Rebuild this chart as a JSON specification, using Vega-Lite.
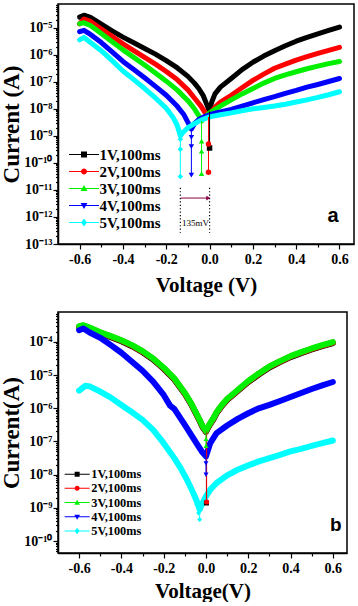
{
  "$schema": "https://vega.github.io/schema/vega-lite/v6.json",
  "padding": {"top": 3, "left": 0, "right": 0, "bottom": 0},
  "spacing": 15,
  "background": "white",
  "config": {
    "view": {"stroke": "black", "strokeWidth": 1.5},
    "axis": {"domainColor": "black", "domainWidth": 1.5, "tickColor": "black", "tickWidth": 1.2, "labelFont": "Liberation Serif", "labelFontWeight": "bold", "labelColor": "black", "titleFont": "Liberation Serif", "titleFontWeight": "bold", "titleColor": "black", "grid": false, "labelOverlap": false, "labelFlush": false},
    "legend": {"labelFont": "Liberation Serif", "labelFontWeight": "bold", "labelColor": "black", "symbolStrokeWidth": 0, "padding": 0, "title": null}
  },
  "datasets": {
    "a": [
      {"s":"1V,100ms","v":-0.6,"i":2.45e-5},{"s":"1V,100ms","v":-0.58,"i":2.88e-5},{"s":"1V,100ms","v":-0.55,"i":2.4e-5},{"s":"1V,100ms","v":-0.5,"i":1.35e-5},{"s":"1V,100ms","v":-0.45,"i":7.59e-6},{"s":"1V,100ms","v":-0.4,"i":4.47e-6},{"s":"1V,100ms","v":-0.35,"i":2.75e-6},{"s":"1V,100ms","v":-0.3,"i":1.7e-6},{"s":"1V,100ms","v":-0.25,"i":1.05e-6},{"s":"1V,100ms","v":-0.2,"i":6.03e-7},{"s":"1V,100ms","v":-0.15,"i":3.31e-7},{"s":"1V,100ms","v":-0.1,"i":1.58e-7},{"s":"1V,100ms","v":-0.07,"i":8.9e-8},{"s":"1V,100ms","v":-0.05,"i":5.62e-8},{"s":"1V,100ms","v":-0.03,"i":3.16e-8},{"s":"1V,100ms","v":-0.015,"i":1.58e-8},{"s":"1V,100ms","v":0,"i":7.94e-9},{"s":"1V,100ms","v":0.01,"i":1.78e-8},{"s":"1V,100ms","v":0.025,"i":3.55e-8},{"s":"1V,100ms","v":0.05,"i":6.31e-8},{"s":"1V,100ms","v":0.1,"i":1.32e-7},{"s":"1V,100ms","v":0.15,"i":2.82e-7},{"s":"1V,100ms","v":0.2,"i":5.25e-7},{"s":"1V,100ms","v":0.25,"i":8.91e-7},{"s":"1V,100ms","v":0.3,"i":1.41e-6},{"s":"1V,100ms","v":0.35,"i":2.14e-6},{"s":"1V,100ms","v":0.4,"i":3.16e-6},{"s":"1V,100ms","v":0.45,"i":4.37e-6},{"s":"1V,100ms","v":0.5,"i":5.89e-6},{"s":"1V,100ms","v":0.55,"i":7.94e-6},{"s":"1V,100ms","v":0.6,"i":1.05e-5},
      {"s":"2V,100ms","v":-0.6,"i":1.38e-5},{"s":"2V,100ms","v":-0.58,"i":2.09e-5},{"s":"2V,100ms","v":-0.55,"i":1.7e-5},{"s":"2V,100ms","v":-0.5,"i":8.91e-6},{"s":"2V,100ms","v":-0.45,"i":4.79e-6},{"s":"2V,100ms","v":-0.4,"i":2.51e-6},{"s":"2V,100ms","v":-0.35,"i":1.41e-6},{"s":"2V,100ms","v":-0.3,"i":7.94e-7},{"s":"2V,100ms","v":-0.25,"i":4.47e-7},{"s":"2V,100ms","v":-0.2,"i":2.4e-7},{"s":"2V,100ms","v":-0.15,"i":1.2e-7},{"s":"2V,100ms","v":-0.1,"i":5.01e-8},{"s":"2V,100ms","v":-0.07,"i":2.51e-8},{"s":"2V,100ms","v":-0.04,"i":1.26e-8},{"s":"2V,100ms","v":-0.02,"i":7.08e-9},{"s":"2V,100ms","v":-0.005,"i":5.01e-9},{"s":"2V,100ms","v":0.01,"i":7.94e-9},{"s":"2V,100ms","v":0.03,"i":1.26e-8},{"s":"2V,100ms","v":0.05,"i":1.78e-8},{"s":"2V,100ms","v":0.1,"i":3.16e-8},{"s":"2V,100ms","v":0.15,"i":6.03e-8},{"s":"2V,100ms","v":0.2,"i":1.12e-7},{"s":"2V,100ms","v":0.25,"i":1.91e-7},{"s":"2V,100ms","v":0.3,"i":3.16e-7},{"s":"2V,100ms","v":0.35,"i":4.47e-7},{"s":"2V,100ms","v":0.4,"i":6.31e-7},{"s":"2V,100ms","v":0.45,"i":8.51e-7},{"s":"2V,100ms","v":0.5,"i":1.12e-6},{"s":"2V,100ms","v":0.55,"i":1.45e-6},{"s":"2V,100ms","v":0.6,"i":1.86e-6},
      {"s":"3V,100ms","v":-0.6,"i":1.41e-5},{"s":"3V,100ms","v":-0.58,"i":1.51e-5},{"s":"3V,100ms","v":-0.55,"i":1.2e-5},{"s":"3V,100ms","v":-0.5,"i":6.03e-6},{"s":"3V,100ms","v":-0.45,"i":3.02e-6},{"s":"3V,100ms","v":-0.4,"i":1.51e-6},{"s":"3V,100ms","v":-0.35,"i":7.94e-7},{"s":"3V,100ms","v":-0.3,"i":4.17e-7},{"s":"3V,100ms","v":-0.25,"i":2.09e-7},{"s":"3V,100ms","v":-0.2,"i":1.05e-7},{"s":"3V,100ms","v":-0.15,"i":5.01e-8},{"s":"3V,100ms","v":-0.1,"i":2e-8},{"s":"3V,100ms","v":-0.07,"i":1e-8},{"s":"3V,100ms","v":-0.05,"i":5.62e-9},{"s":"3V,100ms","v":-0.037,"i":3.55e-9},{"s":"3V,100ms","v":-0.02,"i":5.01e-9},{"s":"3V,100ms","v":0,"i":7.08e-9},{"s":"3V,100ms","v":0.03,"i":1e-8},{"s":"3V,100ms","v":0.05,"i":1.26e-8},{"s":"3V,100ms","v":0.1,"i":2.14e-8},{"s":"3V,100ms","v":0.15,"i":3.55e-8},{"s":"3V,100ms","v":0.2,"i":5.62e-8},{"s":"3V,100ms","v":0.25,"i":8.91e-8},{"s":"3V,100ms","v":0.3,"i":1.32e-7},{"s":"3V,100ms","v":0.35,"i":1.78e-7},{"s":"3V,100ms","v":0.4,"i":2.34e-7},{"s":"3V,100ms","v":0.45,"i":3.02e-7},{"s":"3V,100ms","v":0.5,"i":3.8e-7},{"s":"3V,100ms","v":0.55,"i":4.68e-7},{"s":"3V,100ms","v":0.6,"i":5.62e-7},
      {"s":"4V,100ms","v":-0.6,"i":7.08e-6},{"s":"4V,100ms","v":-0.58,"i":7.94e-6},{"s":"4V,100ms","v":-0.55,"i":5.62e-6},{"s":"4V,100ms","v":-0.5,"i":2.82e-6},{"s":"4V,100ms","v":-0.45,"i":1.26e-6},{"s":"4V,100ms","v":-0.4,"i":5.62e-7},{"s":"4V,100ms","v":-0.35,"i":2.82e-7},{"s":"4V,100ms","v":-0.3,"i":1.41e-7},{"s":"4V,100ms","v":-0.25,"i":6.76e-8},{"s":"4V,100ms","v":-0.2,"i":3.16e-8},{"s":"4V,100ms","v":-0.15,"i":1.26e-8},{"s":"4V,100ms","v":-0.12,"i":6.31e-9},{"s":"4V,100ms","v":-0.1,"i":3.16e-9},{"s":"4V,100ms","v":-0.084,"i":1.78e-9},{"s":"4V,100ms","v":-0.07,"i":2.82e-9},{"s":"4V,100ms","v":-0.05,"i":3.98e-9},{"s":"4V,100ms","v":-0.02,"i":5.25e-9},{"s":"4V,100ms","v":0,"i":6.03e-9},{"s":"4V,100ms","v":0.03,"i":7.08e-9},{"s":"4V,100ms","v":0.1,"i":9.55e-9},{"s":"4V,100ms","v":0.15,"i":1.26e-8},{"s":"4V,100ms","v":0.2,"i":1.66e-8},{"s":"4V,100ms","v":0.25,"i":2.19e-8},{"s":"4V,100ms","v":0.3,"i":2.82e-8},{"s":"4V,100ms","v":0.35,"i":3.72e-8},{"s":"4V,100ms","v":0.4,"i":4.79e-8},{"s":"4V,100ms","v":0.45,"i":6.31e-8},{"s":"4V,100ms","v":0.5,"i":7.94e-8},{"s":"4V,100ms","v":0.55,"i":1.02e-7},{"s":"4V,100ms","v":0.6,"i":1.32e-7},
      {"s":"5V,100ms","v":-0.6,"i":3.55e-6},{"s":"5V,100ms","v":-0.58,"i":4.37e-6},{"s":"5V,100ms","v":-0.55,"i":2.82e-6},{"s":"5V,100ms","v":-0.5,"i":1.41e-6},{"s":"5V,100ms","v":-0.45,"i":6.03e-7},{"s":"5V,100ms","v":-0.4,"i":2.51e-7},{"s":"5V,100ms","v":-0.35,"i":1.2e-7},{"s":"5V,100ms","v":-0.3,"i":5.62e-8},{"s":"5V,100ms","v":-0.25,"i":2.51e-8},{"s":"5V,100ms","v":-0.2,"i":1.05e-8},{"s":"5V,100ms","v":-0.17,"i":5.01e-9},{"s":"5V,100ms","v":-0.15,"i":2.51e-9},{"s":"5V,100ms","v":-0.135,"i":1e-9},{"s":"5V,100ms","v":-0.12,"i":1.41e-9},{"s":"5V,100ms","v":-0.1,"i":2e-9},{"s":"5V,100ms","v":-0.07,"i":2.82e-9},{"s":"5V,100ms","v":-0.04,"i":3.8e-9},{"s":"5V,100ms","v":0,"i":5.01e-9},{"s":"5V,100ms","v":0.05,"i":6.03e-9},{"s":"5V,100ms","v":0.1,"i":7.08e-9},{"s":"5V,100ms","v":0.15,"i":8.51e-9},{"s":"5V,100ms","v":0.2,"i":1e-8},{"s":"5V,100ms","v":0.25,"i":1.12e-8},{"s":"5V,100ms","v":0.3,"i":1.26e-8},{"s":"5V,100ms","v":0.35,"i":1.48e-8},{"s":"5V,100ms","v":0.4,"i":1.78e-8},{"s":"5V,100ms","v":0.45,"i":2.14e-8},{"s":"5V,100ms","v":0.5,"i":2.63e-8},{"s":"5V,100ms","v":0.55,"i":3.31e-8},{"s":"5V,100ms","v":0.6,"i":4.27e-8}
    ],
    "aDip": [
      {"s":"1V,100ms","v":0.0,"top":7.94e-9,"bot":3.55e-10},
      {"s":"2V,100ms","v":-0.005,"top":5.01e-9,"bot":4.47e-11},
      {"s":"3V,100ms","v":-0.037,"top":3.55e-9,"bot":3.98e-11},
      {"s":"4V,100ms","v":-0.084,"top":1.78e-9,"bot":3.55e-11},
      {"s":"5V,100ms","v":-0.135,"top":1e-9,"bot":3.16e-11}
    ],
    "aMark": [
      {"s":"1V,100ms","v":0.0,"i":3.55e-10},
      {"s":"2V,100ms","v":-0.005,"i":5.01e-10},{"s":"2V,100ms","v":-0.005,"i":4.47e-11},
      {"s":"3V,100ms","v":-0.037,"i":6.31e-10},{"s":"3V,100ms","v":-0.037,"i":2.69e-10},{"s":"3V,100ms","v":-0.037,"i":3.98e-11},
      {"s":"4V,100ms","v":-0.084,"i":8.71e-10},{"s":"4V,100ms","v":-0.084,"i":3.98e-10},{"s":"4V,100ms","v":-0.084,"i":3.55e-11},
      {"s":"5V,100ms","v":-0.135,"i":7.41e-10},{"s":"5V,100ms","v":-0.135,"i":3.16e-10},{"s":"5V,100ms","v":-0.135,"i":3.16e-11}
    ],
    "aGuide": [
      {"v":-0.135,"top":1.2e-11,"bot":2.6e-13},
      {"v":0.0,"top":1.2e-11,"bot":2.6e-13}
    ],
    "aArrow": [{"v":-0.133,"v2":-0.006,"i":5.0e-12}],
    "aText": [{"v":-0.065,"i":6.0e-13,"t":"135mV"}],
    "aLetter": [{"v":0.57,"i":1.1e-12,"t":"a"}],
    "b": [
      {"s":"1V,100ms","v":-0.6,"i":2.74e-4},{"s":"1V,100ms","v":-0.58,"i":2.94e-4},{"s":"1V,100ms","v":-0.55,"i":2.5e-4},{"s":"1V,100ms","v":-0.5,"i":1.81e-4},{"s":"1V,100ms","v":-0.45,"i":1.38e-4},{"s":"1V,100ms","v":-0.4,"i":1.04e-4},{"s":"1V,100ms","v":-0.35,"i":7.38e-5},{"s":"1V,100ms","v":-0.3,"i":4.88e-5},{"s":"1V,100ms","v":-0.25,"i":2.94e-5},{"s":"1V,100ms","v":-0.2,"i":1.54e-5},{"s":"1V,100ms","v":-0.15,"i":7.38e-6},{"s":"1V,100ms","v":-0.1,"i":2.68e-6},{"s":"1V,100ms","v":-0.07,"i":1.31e-6},{"s":"1V,100ms","v":-0.05,"i":7.38e-7},{"s":"1V,100ms","v":-0.03,"i":4.16e-7},{"s":"1V,100ms","v":-0.015,"i":2.62e-7},{"s":"1V,100ms","v":0,"i":1.94e-7},{"s":"1V,100ms","v":0.01,"i":2.62e-7},{"s":"1V,100ms","v":0.02,"i":3.3e-7},{"s":"1V,100ms","v":0.035,"i":4.66e-7},{"s":"1V,100ms","v":0.05,"i":7.06e-7},{"s":"1V,100ms","v":0.075,"i":1.17e-6},{"s":"1V,100ms","v":0.1,"i":1.78e-6},{"s":"1V,100ms","v":0.15,"i":3.3e-6},{"s":"1V,100ms","v":0.2,"i":6.15e-6},{"s":"1V,100ms","v":0.25,"i":1.04e-5},{"s":"1V,100ms","v":0.3,"i":1.69e-5},{"s":"1V,100ms","v":0.35,"i":2.45e-5},{"s":"1V,100ms","v":0.4,"i":3.46e-5},{"s":"1V,100ms","v":0.45,"i":4.56e-5},{"s":"1V,100ms","v":0.5,"i":5.87e-5},{"s":"1V,100ms","v":0.55,"i":7.38e-5},{"s":"1V,100ms","v":0.6,"i":9.09e-5},
      {"s":"2V,100ms","v":-0.6,"i":2.86e-4},{"s":"2V,100ms","v":-0.58,"i":3.07e-4},{"s":"2V,100ms","v":-0.55,"i":2.61e-4},{"s":"2V,100ms","v":-0.5,"i":1.89e-4},{"s":"2V,100ms","v":-0.45,"i":1.44e-4},{"s":"2V,100ms","v":-0.4,"i":1.09e-4},{"s":"2V,100ms","v":-0.35,"i":7.7e-5},{"s":"2V,100ms","v":-0.3,"i":5.09e-5},{"s":"2V,100ms","v":-0.25,"i":3.07e-5},{"s":"2V,100ms","v":-0.2,"i":1.61e-5},{"s":"2V,100ms","v":-0.15,"i":7.7e-6},{"s":"2V,100ms","v":-0.1,"i":2.79e-6},{"s":"2V,100ms","v":-0.07,"i":1.37e-6},{"s":"2V,100ms","v":-0.05,"i":7.7e-7},{"s":"2V,100ms","v":-0.03,"i":4.34e-7},{"s":"2V,100ms","v":-0.015,"i":2.74e-7},{"s":"2V,100ms","v":0,"i":2.03e-7},{"s":"2V,100ms","v":0.01,"i":2.74e-7},{"s":"2V,100ms","v":0.02,"i":3.44e-7},{"s":"2V,100ms","v":0.035,"i":4.86e-7},{"s":"2V,100ms","v":0.05,"i":7.36e-7},{"s":"2V,100ms","v":0.075,"i":1.22e-6},{"s":"2V,100ms","v":0.1,"i":1.85e-6},{"s":"2V,100ms","v":0.15,"i":3.44e-6},{"s":"2V,100ms","v":0.2,"i":6.41e-6},{"s":"2V,100ms","v":0.25,"i":1.09e-5},{"s":"2V,100ms","v":0.3,"i":1.77e-5},{"s":"2V,100ms","v":0.35,"i":2.55e-5},{"s":"2V,100ms","v":0.4,"i":3.61e-5},{"s":"2V,100ms","v":0.45,"i":4.75e-5},{"s":"2V,100ms","v":0.5,"i":6.12e-5},{"s":"2V,100ms","v":0.55,"i":7.7e-5},{"s":"2V,100ms","v":0.6,"i":9.48e-5},
      {"s":"3V,100ms","v":-0.6,"i":2.95e-4},{"s":"3V,100ms","v":-0.58,"i":3.16e-4},{"s":"3V,100ms","v":-0.55,"i":2.69e-4},{"s":"3V,100ms","v":-0.5,"i":1.95e-4},{"s":"3V,100ms","v":-0.45,"i":1.48e-4},{"s":"3V,100ms","v":-0.4,"i":1.12e-4},{"s":"3V,100ms","v":-0.35,"i":7.94e-5},{"s":"3V,100ms","v":-0.3,"i":5.25e-5},{"s":"3V,100ms","v":-0.25,"i":3.16e-5},{"s":"3V,100ms","v":-0.2,"i":1.66e-5},{"s":"3V,100ms","v":-0.15,"i":7.94e-6},{"s":"3V,100ms","v":-0.1,"i":2.88e-6},{"s":"3V,100ms","v":-0.07,"i":1.41e-6},{"s":"3V,100ms","v":-0.05,"i":7.94e-7},{"s":"3V,100ms","v":-0.03,"i":4.47e-7},{"s":"3V,100ms","v":-0.015,"i":2.82e-7},{"s":"3V,100ms","v":0,"i":2.09e-7},{"s":"3V,100ms","v":0.01,"i":2.82e-7},{"s":"3V,100ms","v":0.02,"i":3.55e-7},{"s":"3V,100ms","v":0.035,"i":5.01e-7},{"s":"3V,100ms","v":0.05,"i":7.59e-7},{"s":"3V,100ms","v":0.075,"i":1.26e-6},{"s":"3V,100ms","v":0.1,"i":1.91e-6},{"s":"3V,100ms","v":0.15,"i":3.55e-6},{"s":"3V,100ms","v":0.2,"i":6.61e-6},{"s":"3V,100ms","v":0.25,"i":1.12e-5},{"s":"3V,100ms","v":0.3,"i":1.82e-5},{"s":"3V,100ms","v":0.35,"i":2.63e-5},{"s":"3V,100ms","v":0.4,"i":3.72e-5},{"s":"3V,100ms","v":0.45,"i":4.9e-5},{"s":"3V,100ms","v":0.5,"i":6.31e-5},{"s":"3V,100ms","v":0.55,"i":7.94e-5},{"s":"3V,100ms","v":0.6,"i":9.77e-5},
      {"s":"4V,100ms","v":-0.6,"i":2.24e-4},{"s":"4V,100ms","v":-0.58,"i":2.51e-4},{"s":"4V,100ms","v":-0.55,"i":1.91e-4},{"s":"4V,100ms","v":-0.5,"i":1.32e-4},{"s":"4V,100ms","v":-0.45,"i":7.94e-5},{"s":"4V,100ms","v":-0.4,"i":4.68e-5},{"s":"4V,100ms","v":-0.35,"i":2.51e-5},{"s":"4V,100ms","v":-0.3,"i":1.35e-5},{"s":"4V,100ms","v":-0.25,"i":6.31e-6},{"s":"4V,100ms","v":-0.2,"i":2.51e-6},{"s":"4V,100ms","v":-0.17,"i":1.2e-6},{"s":"4V,100ms","v":-0.15,"i":9.55e-7},{"s":"4V,100ms","v":-0.1,"i":3.16e-7},{"s":"4V,100ms","v":-0.07,"i":1.58e-7},{"s":"4V,100ms","v":-0.04,"i":7.94e-8},{"s":"4V,100ms","v":-0.02,"i":5.01e-8},{"s":"4V,100ms","v":0,"i":3.55e-8},{"s":"4V,100ms","v":0.02,"i":8.91e-8},{"s":"4V,100ms","v":0.05,"i":1.78e-7},{"s":"4V,100ms","v":0.1,"i":3.02e-7},{"s":"4V,100ms","v":0.15,"i":4.79e-7},{"s":"4V,100ms","v":0.2,"i":7.08e-7},{"s":"4V,100ms","v":0.25,"i":1e-6},{"s":"4V,100ms","v":0.3,"i":1.26e-6},{"s":"4V,100ms","v":0.35,"i":1.66e-6},{"s":"4V,100ms","v":0.4,"i":2.19e-6},{"s":"4V,100ms","v":0.45,"i":2.88e-6},{"s":"4V,100ms","v":0.5,"i":3.8e-6},{"s":"4V,100ms","v":0.55,"i":4.9e-6},{"s":"4V,100ms","v":0.6,"i":6.17e-6},
      {"s":"5V,100ms","v":-0.6,"i":3.39e-6},{"s":"5V,100ms","v":-0.57,"i":4.79e-6},{"s":"5V,100ms","v":-0.55,"i":4.57e-6},{"s":"5V,100ms","v":-0.5,"i":3.16e-6},{"s":"5V,100ms","v":-0.45,"i":2.09e-6},{"s":"5V,100ms","v":-0.4,"i":1.26e-6},{"s":"5V,100ms","v":-0.35,"i":7.59e-7},{"s":"5V,100ms","v":-0.3,"i":4.47e-7},{"s":"5V,100ms","v":-0.25,"i":2.24e-7},{"s":"5V,100ms","v":-0.2,"i":8.91e-8},{"s":"5V,100ms","v":-0.15,"i":3.16e-8},{"s":"5V,100ms","v":-0.12,"i":1.58e-8},{"s":"5V,100ms","v":-0.09,"i":7.08e-9},{"s":"5V,100ms","v":-0.06,"i":2.82e-9},{"s":"5V,100ms","v":-0.04,"i":1.41e-9},{"s":"5V,100ms","v":-0.03,"i":8.91e-10},{"s":"5V,100ms","v":-0.02,"i":1.26e-9},{"s":"5V,100ms","v":0,"i":2.24e-9},{"s":"5V,100ms","v":0.02,"i":3.55e-9},{"s":"5V,100ms","v":0.05,"i":5.62e-9},{"s":"5V,100ms","v":0.1,"i":9.55e-9},{"s":"5V,100ms","v":0.15,"i":1.41e-8},{"s":"5V,100ms","v":0.2,"i":1.91e-8},{"s":"5V,100ms","v":0.25,"i":2.51e-8},{"s":"5V,100ms","v":0.3,"i":3.16e-8},{"s":"5V,100ms","v":0.35,"i":3.98e-8},{"s":"5V,100ms","v":0.4,"i":5.01e-8},{"s":"5V,100ms","v":0.45,"i":6.03e-8},{"s":"5V,100ms","v":0.5,"i":7.41e-8},{"s":"5V,100ms","v":0.55,"i":8.91e-8},{"s":"5V,100ms","v":0.6,"i":1.07e-7}
    ],
    "bDip": [
      {"s":"1V,100ms","v":0.002,"top":1.94e-7,"bot":1.41e-9},
      {"s":"2V,100ms","v":0.003,"top":2.03e-7,"bot":1.5e-9},
      {"s":"3V,100ms","v":0.0,"top":2.09e-7,"bot":7.41e-8},
      {"s":"4V,100ms","v":0.0,"top":3.55e-8,"bot":1e-8},
      {"s":"5V,100ms","v":-0.03,"top":8.91e-10,"bot":4.47e-10}
    ],
    "bMark": [
      {"s":"1V,100ms","v":0.002,"i":1.41e-9},
      {"s":"2V,100ms","v":0.003,"i":1.5e-9},
      {"s":"3V,100ms","v":0.0,"i":1.2e-7},{"s":"3V,100ms","v":0.0,"i":7.41e-8},
      {"s":"4V,100ms","v":0.0,"i":2.2e-8},{"s":"4V,100ms","v":0.0,"i":1e-8},
      {"s":"5V,100ms","v":-0.045,"i":1.3e-9},{"s":"5V,100ms","v":-0.035,"i":7e-10},{"s":"5V,100ms","v":-0.03,"i":4.47e-10}
    ],
    "bLetter": [{"v":0.614,"i":3.1e-10,"t":"b"}]
  },
  "resolve": {"scale": {"fill": "independent", "shape": "independent"}, "legend": {"fill": "independent", "shape": "independent"}},
  "vconcat": [
    {
      "width": 296,
      "height": 240,
      "encoding": {
        "x": {"field": "v", "type": "quantitative", "scale": {"domain": [-0.7, 0.667], "nice": false, "zero": false},
          "axis": {"values": [-0.6,-0.5,-0.4,-0.3,-0.2,-0.1,0,0.1,0.2,0.3,0.4,0.5,0.6],
            "labelExpr": "abs(round(datum.value*10) % 2) == 0 ? (datum.value < -0.001 ? '-' : '') + format(abs(datum.value), '.1f') : ''",
            "tickSize": {"condition": {"test": "abs(round(datum.value*10) % 2) == 0", "value": 5}, "value": 3},
            "labelFontSize": 14, "labelPadding": 3, "title": "Voltage (V)", "titleFontSize": 21, "titlePadding": 8}}
      },
      "layer": [
        {
          "data": {"name": "a"},
          "mark": {"type": "line", "strokeWidth": 5, "strokeCap": "round", "strokeJoin": "round"},
          "encoding": {
            "y": {"field": "i", "type": "quantitative", "scale": {"type": "log", "domain": [1e-13, 7.5e-5], "nice": false},
              "axis": {"values": [1e-13,2e-13,3e-13,4e-13,5e-13,6e-13,7e-13,8e-13,9e-13,1e-12,2e-12,3e-12,4e-12,5e-12,6e-12,7e-12,8e-12,9e-12,1e-11,2e-11,3e-11,4e-11,5e-11,6e-11,7e-11,8e-11,9e-11,1e-10,2e-10,3e-10,4e-10,5e-10,6e-10,7e-10,8e-10,9e-10,1e-9,2e-9,3e-9,4e-9,5e-9,6e-9,7e-9,8e-9,9e-9,1e-8,2e-8,3e-8,4e-8,5e-8,6e-8,7e-8,8e-8,9e-8,1e-7,2e-7,3e-7,4e-7,5e-7,6e-7,7e-7,8e-7,9e-7,1e-6,2e-6,3e-6,4e-6,5e-6,6e-6,7e-6,8e-6,9e-6,1e-5,2e-5,3e-5,4e-5,5e-5,6e-5,7e-5],
                "labelExpr": "abs(log(datum.value)/LN10 - round(log(datum.value)/LN10)) < 0.001 ? '10⁻' + (round(-log(datum.value)/LN10) >= 10 ? '¹' : '') + ['⁰','¹','²','³','⁴','⁵','⁶','⁷','⁸','⁹'][round(-log(datum.value)/LN10) % 10] : ''",
                "labelFontSize": {"condition": {"test": "abs(log(datum.value)/LN10 - round(log(datum.value)/LN10)) < 0.001", "value": 14}, "value": 1},
                "tickSize": {"condition": {"test": "abs(log(datum.value)/LN10 - round(log(datum.value)/LN10)) < 0.001", "value": 5}, "value": 2.5},
                "labelPadding": 1, "title": "Current (A)", "titleFontSize": 23, "titlePadding": 0}},
            "color": {"field": "s", "type": "nominal", "scale": {"domain": ["1V,100ms","2V,100ms","3V,100ms","4V,100ms","5V,100ms"], "range": ["#000000","#ff0000","#00f000","#0000ff","#00ffff"]}, "legend": null}
          }
        },
        {
          "data": {"name": "aDip"},
          "mark": {"type": "rule", "strokeWidth": 1},
          "encoding": {
            "y": {"field": "top", "type": "quantitative"},
            "y2": {"field": "bot"},
            "color": {"field": "s", "type": "nominal", "legend": null}
          }
        },
        {"data": {"name": "aMark"}, "transform": [{"filter": {"field": "s", "equal": "1V,100ms"}}], "mark": {"type": "point", "shape": "square", "filled": true, "opacity": 1, "size": 30}, "encoding": {"y": {"field": "i", "type": "quantitative"}, "color": {"field": "s", "type": "nominal", "legend": null}}},
        {"data": {"name": "aMark"}, "transform": [{"filter": {"field": "s", "equal": "2V,100ms"}}], "mark": {"type": "point", "shape": "circle", "filled": true, "opacity": 1, "size": 30}, "encoding": {"y": {"field": "i", "type": "quantitative"}, "color": {"field": "s", "type": "nominal", "legend": null}}},
        {"data": {"name": "aMark"}, "transform": [{"filter": {"field": "s", "equal": "3V,100ms"}}], "mark": {"type": "point", "shape": "triangle-up", "filled": true, "opacity": 1, "size": 30}, "encoding": {"y": {"field": "i", "type": "quantitative"}, "color": {"field": "s", "type": "nominal", "legend": null}}},
        {"data": {"name": "aMark"}, "transform": [{"filter": {"field": "s", "equal": "4V,100ms"}}], "mark": {"type": "point", "shape": "triangle-down", "filled": true, "opacity": 1, "size": 30}, "encoding": {"y": {"field": "i", "type": "quantitative"}, "color": {"field": "s", "type": "nominal", "legend": null}}},
        {"data": {"name": "aMark"}, "transform": [{"filter": {"field": "s", "equal": "5V,100ms"}}], "mark": {"type": "point", "shape": "diamond", "filled": true, "opacity": 1, "size": 30}, "encoding": {"y": {"field": "i", "type": "quantitative"}, "color": {"field": "s", "type": "nominal", "legend": null}}},
        {
          "data": {"name": "aGuide"},
          "mark": {"type": "rule", "strokeWidth": 1.2, "strokeDash": [1.2, 2.2], "color": "black"},
          "encoding": {"y": {"field": "top", "type": "quantitative"}, "y2": {"field": "bot"}}
        },
        {
          "data": {"name": "aArrow"},
          "mark": {"type": "rule", "strokeWidth": 1, "color": "#8b0045"},
          "encoding": {"x2": {"field": "v2"}, "y": {"field": "i", "type": "quantitative"}}
        },
        {
          "data": {"name": "aArrow"},
          "mark": {"type": "point", "shape": "triangle-right", "filled": true, "size": 22, "color": "#8b0045", "opacity": 1},
          "encoding": {"x": {"field": "v2", "type": "quantitative"}, "y": {"field": "i", "type": "quantitative"}}
        },
        {
          "data": {"name": "aText"},
          "mark": {"type": "text", "font": "Liberation Serif", "fontSize": 9, "color": "black"},
          "encoding": {"y": {"field": "i", "type": "quantitative"}, "text": {"field": "t"}}
        },
        {
          "data": {"name": "aLetter"},
          "mark": {"type": "text", "font": "Liberation Sans", "fontWeight": "bold", "fontSize": 20, "color": "black"},
          "encoding": {"y": {"field": "i", "type": "quantitative"}, "text": {"field": "t"}}
        },
        {
          "data": {"values": []},
          "mark": {"type": "point", "filled": true, "opacity": 1},
          "encoding": {
            "fill": {"field": "s", "type": "nominal", "scale": {"domain": ["1V,100ms","2V,100ms","3V,100ms","4V,100ms","5V,100ms"], "range": ["#000000","#ff0000","#00f000","#0000ff","#00ffff"]},
              "legend": {"orient": "none", "legendX": 18.5, "legendY": 143, "symbolSize": 36, "labelOffset": 8, "labelFontSize": 15, "rowPadding": 1}},
            "shape": {"field": "s", "type": "nominal", "scale": {"domain": ["1V,100ms","2V,100ms","3V,100ms","4V,100ms","5V,100ms"], "range": [
              "M-5,-0.17H5V0.17H-5Z M-1,-1H1V1H-1Z",
              "M-5,-0.17H5V0.17H-5Z M1,0A1,1 0 1,1 -1,0A1,1 0 1,1 1,0Z",
              "M-5,-0.17H5V0.17H-5Z M0,-1.15L1.15,0.85H-1.15Z",
              "M-5,-0.17H5V0.17H-5Z M0,1.15L-1.15,-0.85H1.15Z",
              "M-5,-0.17H5V0.17H-5Z M0,-1.3L1,0L0,1.3L-1,0Z"]},
              "legend": {"orient": "none", "legendX": 18.5, "legendY": 143, "symbolSize": 36, "labelOffset": 8, "labelFontSize": 15, "rowPadding": 1}}
          }
        }
      ]
    },
    {
      "width": 289,
      "height": 241,
      "encoding": {
        "x": {"field": "v", "type": "quantitative", "scale": {"domain": [-0.7, 0.667], "nice": false, "zero": false},
          "axis": {"values": [-0.6,-0.5,-0.4,-0.3,-0.2,-0.1,0,0.1,0.2,0.3,0.4,0.5,0.6],
            "labelExpr": "abs(round(datum.value*10) % 2) == 0 ? (datum.value < -0.001 ? '-' : '') + format(abs(datum.value), '.1f') : ''",
            "tickSize": {"condition": {"test": "abs(round(datum.value*10) % 2) == 0", "value": 5}, "value": 3},
            "labelFontSize": 14, "labelPadding": 3, "title": "Voltage(V)", "titleFontSize": 21, "titlePadding": 5}}
      },
      "layer": [
        {
          "data": {"name": "b"},
          "mark": {"type": "line", "strokeWidth": 6, "strokeCap": "round", "strokeJoin": "round"},
          "encoding": {
            "y": {"field": "i", "type": "quantitative", "scale": {"type": "log", "domain": [4.4e-11, 7.9e-4], "nice": false},
              "axis": {"values": [5e-11,6e-11,7e-11,8e-11,9e-11,1e-10,2e-10,3e-10,4e-10,5e-10,6e-10,7e-10,8e-10,9e-10,1e-9,2e-9,3e-9,4e-9,5e-9,6e-9,7e-9,8e-9,9e-9,1e-8,2e-8,3e-8,4e-8,5e-8,6e-8,7e-8,8e-8,9e-8,1e-7,2e-7,3e-7,4e-7,5e-7,6e-7,7e-7,8e-7,9e-7,1e-6,2e-6,3e-6,4e-6,5e-6,6e-6,7e-6,8e-6,9e-6,1e-5,2e-5,3e-5,4e-5,5e-5,6e-5,7e-5,8e-5,9e-5,1e-4,2e-4,3e-4,4e-4,5e-4,6e-4,7e-4],
                "labelExpr": "abs(log(datum.value)/LN10 - round(log(datum.value)/LN10)) < 0.001 ? '10⁻' + (round(-log(datum.value)/LN10) >= 10 ? '¹' : '') + ['⁰','¹','²','³','⁴','⁵','⁶','⁷','⁸','⁹'][round(-log(datum.value)/LN10) % 10] : ''",
                "labelFontSize": {"condition": {"test": "abs(log(datum.value)/LN10 - round(log(datum.value)/LN10)) < 0.001", "value": 14}, "value": 1},
                "tickSize": {"condition": {"test": "abs(log(datum.value)/LN10 - round(log(datum.value)/LN10)) < 0.001", "value": 5}, "value": 2.5},
                "labelPadding": 1, "title": "Current(A)", "titleFontSize": 23, "titlePadding": 0}},
            "color": {"field": "s", "type": "nominal", "scale": {"domain": ["1V,100ms","2V,100ms","3V,100ms","4V,100ms","5V,100ms"], "range": ["#000000","#ff0000","#00f000","#0000ff","#00ffff"]}, "legend": null}
          }
        },
        {
          "data": {"name": "bDip"},
          "mark": {"type": "rule", "strokeWidth": 1},
          "encoding": {
            "y": {"field": "top", "type": "quantitative"},
            "y2": {"field": "bot"},
            "color": {"field": "s", "type": "nominal", "legend": null}
          }
        },
        {"data": {"name": "bMark"}, "transform": [{"filter": {"field": "s", "equal": "1V,100ms"}}], "mark": {"type": "point", "shape": "square", "filled": true, "opacity": 1, "size": 25}, "encoding": {"y": {"field": "i", "type": "quantitative"}, "color": {"field": "s", "type": "nominal", "legend": null}}},
        {"data": {"name": "bMark"}, "transform": [{"filter": {"field": "s", "equal": "2V,100ms"}}], "mark": {"type": "point", "shape": "circle", "filled": true, "opacity": 1, "size": 25}, "encoding": {"y": {"field": "i", "type": "quantitative"}, "color": {"field": "s", "type": "nominal", "legend": null}}},
        {"data": {"name": "bMark"}, "transform": [{"filter": {"field": "s", "equal": "3V,100ms"}}], "mark": {"type": "point", "shape": "triangle-up", "filled": true, "opacity": 1, "size": 25}, "encoding": {"y": {"field": "i", "type": "quantitative"}, "color": {"field": "s", "type": "nominal", "legend": null}}},
        {"data": {"name": "bMark"}, "transform": [{"filter": {"field": "s", "equal": "4V,100ms"}}], "mark": {"type": "point", "shape": "triangle-down", "filled": true, "opacity": 1, "size": 25}, "encoding": {"y": {"field": "i", "type": "quantitative"}, "color": {"field": "s", "type": "nominal", "legend": null}}},
        {"data": {"name": "bMark"}, "transform": [{"filter": {"field": "s", "equal": "5V,100ms"}}], "mark": {"type": "point", "shape": "diamond", "filled": true, "opacity": 1, "size": 25}, "encoding": {"y": {"field": "i", "type": "quantitative"}, "color": {"field": "s", "type": "nominal", "legend": null}}},
        {
          "data": {"name": "bLetter"},
          "mark": {"type": "text", "font": "Liberation Sans", "fontWeight": "bold", "fontSize": 19, "color": "black"},
          "encoding": {"y": {"field": "i", "type": "quantitative"}, "text": {"field": "t"}}
        },
        {
          "data": {"values": []},
          "mark": {"type": "point", "filled": true, "opacity": 1},
          "encoding": {
            "fill": {"field": "s", "type": "nominal", "scale": {"domain": ["1V,100ms","2V,100ms","3V,100ms","4V,100ms","5V,100ms"], "range": ["#000000","#ff0000","#00f000","#0000ff","#00ffff"]},
              "legend": {"orient": "none", "legendX": 13, "legendY": 156, "symbolSize": 25, "labelOffset": 8, "labelFontSize": 12.3, "rowPadding": 1.2}},
            "shape": {"field": "s", "type": "nominal", "scale": {"domain": ["1V,100ms","2V,100ms","3V,100ms","4V,100ms","5V,100ms"], "range": [
              "M-5,-0.2H5V0.2H-5Z M-1,-1H1V1H-1Z",
              "M-5,-0.2H5V0.2H-5Z M1,0A1,1 0 1,1 -1,0A1,1 0 1,1 1,0Z",
              "M-5,-0.2H5V0.2H-5Z M0,-1.15L1.15,0.85H-1.15Z",
              "M-5,-0.2H5V0.2H-5Z M0,1.15L-1.15,-0.85H1.15Z",
              "M-5,-0.2H5V0.2H-5Z M0,-1.3L1,0L0,1.3L-1,0Z"]},
              "legend": {"orient": "none", "legendX": 13, "legendY": 156, "symbolSize": 25, "labelOffset": 8, "labelFontSize": 12.3, "rowPadding": 1.2}}
          }
        }
      ]
    }
  ]
}
